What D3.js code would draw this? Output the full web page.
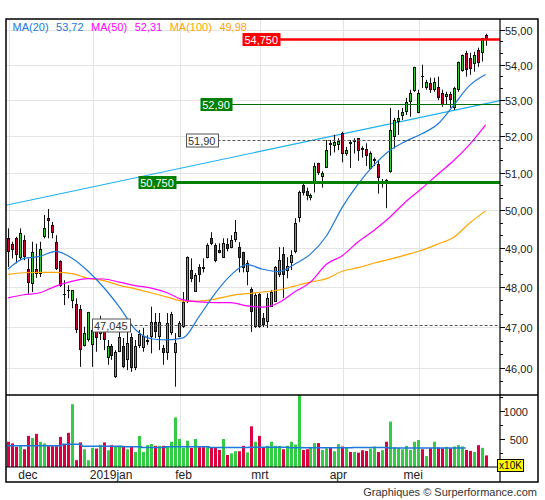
<!DOCTYPE html>
<html><head><meta charset="utf-8">
<script src="https://cdn.jsdelivr.net/npm/d3@7"></script>
<style>body{margin:0;background:#fff}svg{display:block}text{font-family:"Liberation Sans",Arial,sans-serif}</style>
</head><body><svg id="c" width="545" height="500"></svg>
<script>
// ---------- DATA ----------
const opens=[49.26,49.12,49.26,48.74,49.21,48.46,48.09,48.46,48.35,49.30,49.80,49.61,49.17,48.67,47.84,47.94,47.65,47.57,47.45,46.52,46.68,46.56,47.01,46.83,46.98,46.23,46.54,45.78,46.39,46.53,46.19,46.76,45.99,46.53,46.48,46.64,46.76,47.12,46.76,46.48,46.35,46.86,46.35,46.76,47.01,47.63,48.44,47.88,48.52,48.51,48.76,49.26,49.08,48.95,48.76,49.12,49.01,49.21,49.03,48.91,48.38,47.95,47.01,47.84,47.22,47.13,47.51,47.63,48.31,48.86,48.42,48.61,48.91,49.79,50.68,50.52,50.33,50.74,51.25,50.89,51.14,51.80,51.73,51.75,52.09,51.51,51.83,51.84,51.94,51.66,51.63,51.09,51.32,51.23,50.74,50.81,51.01,51.98,52.40,52.56,52.66,52.95,53.26,52.63,53.67,53.35,53.48,53.29,53.38,53.19,53.09,53.16,52.77,53.29,53.83,54.33,54.19,54.02,54.43,54.33,54.86];
const highs=[49.52,49.17,49.30,49.52,49.34,48.74,49.17,49.12,49.17,49.87,50.03,49.69,49.34,48.69,48.18,48.05,47.93,47.72,47.55,47.01,47.38,47.18,47.18,47.28,47.03,46.68,46.58,46.43,46.98,46.73,46.93,46.85,46.68,46.93,46.98,46.80,47.51,47.35,47.35,46.56,47.35,47.38,46.85,47.15,47.88,48.79,48.74,48.36,48.59,48.74,49.13,49.42,49.13,49.13,49.26,49.26,49.34,49.74,49.16,48.91,48.69,48.00,47.85,47.85,47.35,47.85,47.93,48.54,49.03,49.03,48.77,48.95,49.79,50.52,50.70,50.60,50.44,51.27,51.27,51.04,51.89,51.89,52.03,51.94,52.12,51.70,51.89,51.94,51.94,51.72,51.80,51.58,51.41,51.32,50.83,50.83,52.78,52.50,52.72,52.78,53.06,53.29,53.94,53.29,54.00,53.57,53.63,53.63,53.66,53.29,53.23,53.23,53.37,54.09,54.29,54.40,54.34,54.37,54.49,54.77,54.89];
const lows=[48.52,48.74,48.61,48.69,48.69,47.84,47.88,48.24,48.26,49.26,49.26,49.26,48.44,48.01,47.55,47.72,47.47,46.85,46.02,46.52,46.64,46.02,46.39,46.68,46.43,46.07,46.19,45.75,46.38,45.99,45.94,45.90,45.94,46.48,46.39,46.56,46.35,46.73,46.43,46.07,46.19,46.80,45.54,46.75,46.98,47.60,48.13,47.88,48.13,48.38,48.74,49.08,48.64,48.87,48.76,48.92,49.00,49.16,48.38,48.38,48.05,46.88,46.98,46.98,47.00,46.98,47.50,47.63,48.26,47.73,48.23,48.44,48.87,49.68,50.39,50.26,50.26,50.47,50.94,50.60,51.13,51.46,51.55,51.61,51.28,51.46,51.13,51.52,51.32,51.41,51.18,51.09,51.18,50.44,50.60,50.05,51.00,51.66,52.03,52.44,52.58,52.53,53.23,52.63,53.34,53.29,53.20,53.23,53.00,52.81,52.86,52.78,52.72,53.23,53.80,53.66,53.71,53.80,53.94,54.09,54.54];
const closes=[48.91,48.95,48.82,49.39,48.78,48.12,48.91,48.33,48.99,49.52,49.71,49.41,48.46,48.03,47.81,47.91,47.93,46.93,46.43,46.85,47.37,46.93,46.72,47.13,46.68,46.52,46.29,46.39,46.76,46.02,46.60,45.99,46.52,46.82,46.78,46.68,47.12,46.88,47.13,46.35,47.09,47.32,46.60,47.09,47.63,48.78,48.22,48.31,48.31,48.46,49.08,49.10,48.67,48.89,49.15,48.97,49.21,49.43,48.74,48.48,48.61,47.38,47.80,47.01,47.05,47.73,47.88,48.52,48.69,48.31,48.54,48.82,49.66,50.47,50.45,50.38,50.39,51.18,51.00,51.00,51.61,51.75,51.84,51.86,51.51,51.61,51.77,51.89,51.59,51.61,51.46,51.53,51.38,50.86,50.78,50.74,52.17,52.44,52.49,52.66,52.94,53.19,53.92,53.19,53.66,53.51,53.29,53.51,53.05,52.86,53.16,53.00,53.33,54.08,54.27,53.86,53.89,54.27,54.05,54.76,54.75];
const volumes=[451,421,360,378,317,555,518,592,451,421,372,372,372,537,409,610,1122,
122,439,317,122,342,329,397,439,299,390,366,378,378,317,372,268,555,268,390,409,378,378,378,360,451,
885,
500,342,470,342,500,354,354,354,354,354,305,500,214,244,281,281,378,262,726,451,555,342,378,451,378,378,317,378,451,400,
1290,
305,317,354,427,427,305,335,354,281,409,366,354,268,268,256,299,287,329,366,268,300,451,811,
354,342,317,378,305,451,482,317,195,335,451,348,335,360,335,366,390,366,305,287,268,390,342,207];
const maIdx=[0,4,8,12,16,20,24,28,32,36,40,44,48,52,56,60,64,68,72,76,80,84,88,92,96,100,104,108,112,116,120];
const ma20=[48.46,48.74,48.79,48.92,48.75,48.42,48.00,47.50,46.94,46.71,46.68,46.73,47.26,47.84,48.31,48.58,48.46,48.40,48.59,48.85,49.32,50.08,50.70,51.21,51.61,51.86,52.06,52.33,52.86,53.41,53.72];
const ma50=[47.73,47.81,47.86,48.03,48.15,48.22,48.21,48.13,48.04,47.98,47.86,47.68,47.63,47.61,47.61,47.53,47.50,47.61,47.88,48.13,48.59,48.81,49.17,49.47,49.82,50.23,50.58,50.96,51.33,51.77,52.31];
const ma100=[48.33,48.37,48.38,48.38,48.35,48.23,48.17,48.05,47.96,47.86,47.75,47.65,47.65,47.70,47.79,47.84,47.88,47.93,48.03,48.13,48.22,48.41,48.50,48.62,48.72,48.83,48.95,49.11,49.29,49.66,49.98];
const volAvgFrom=[0,14,19,29,34,40,51,61,71,87,96];
const volAvgTo=[14,19,29,34,40,51,61,71,87,96,115];
const volAvgVal=[380,405,372,360,350,362,350,352,345,347,340];
const trendIdx=[0,120];
const trendVal=[50.14,52.90];
const levelValues=[54.75,52.90,51.90,50.75,47.045];
const levelLabels=["54,750","52,90","51,90","50,750","47,045"];
const levelKinds=["red","green","box","greenThick","box"];
const levelFrom=[58.9,48.3,44.7,32.7,21.1];
const monthStart=[0,21,43,63,84,103];
const monthLabels=["dec","2019jan","feb","mrt","apr","mei"];
const monthLabelIdx=[5,25.9,44.1,63.3,83,101.8];
const priceTicks=[46,47,48,49,50,51,52,53,54,55];
const volTicks=[250,500,750,1000,1250];
const volLabels=[500,1000];

// ---------- LAYOUT ----------
const L=6,R=500,FR=538,T=19,MB=395,VB=467,B=482;
const svg=d3.select("#c");
const x=d3.scaleLinear().domain([0,120]).range([8,485.6]);
const y=d3.scaleLog().domain([46,55]).range([367.7,30]);
const yv=d3.scaleLinear().domain([0,1000]).range([467,411]);
const fmt=v=>v.toFixed(2).replace(".",",");
const UP="#33cc33",DN="#cc0033";

const defs=svg.append("defs");
defs.append("clipPath").attr("id","cm").append("rect").attr("x",L).attr("y",T).attr("width",R-L).attr("height",MB-T);
defs.append("clipPath").attr("id","cv").append("rect").attr("x",L).attr("y",MB).attr("width",R-L).attr("height",VB-MB);

// grid
const g=svg.append("g");
g.selectAll(".hg").data(priceTicks).enter().append("line")
 .attr("x1",L).attr("x2",R).attr("y1",d=>Math.round(y(d))+0.5).attr("y2",d=>Math.round(y(d))+0.5)
 .attr("stroke","#e4e4e4");
g.selectAll(".vg").data(monthStart).enter().append("line")
 .attr("x1",d=>Math.round(x(d))+1.5).attr("x2",d=>Math.round(x(d))+1.5).attr("y1",T).attr("y2",VB)
 .attr("stroke","#e4e4e4");

const main=svg.append("g").attr("clip-path","url(#cm)");

// trend line
{
 const x0=x(trendIdx[0]),x1=x(trendIdx[1]),y0=y(trendVal[0]),y1=y(trendVal[1]);
 const s=(y1-y0)/(x1-x0);
 main.append("line").attr("x1",L).attr("y1",y0+s*(L-x0)).attr("x2",R).attr("y2",y0+s*(R-x0))
  .attr("stroke","#1ab0f0").attr("stroke-width",1.2);
}

// candles
const idx=d3.range(opens.length);
const cg=main.append("g");
idx.forEach(i=>{
 const cx=Math.round(x(i))+0.5;
 cg.append("line").attr("x1",cx).attr("x2",cx).attr("y1",y(highs[i])).attr("y2",y(lows[i])).attr("stroke","#111").attr("stroke-width",1);
 const top=Math.round(y(Math.max(opens[i],closes[i]))),bot=Math.round(y(Math.min(opens[i],closes[i])));
 const up=closes[i]>=opens[i];
 if(bot-top<2){
  cg.append("line").attr("x1",cx-1.5).attr("x2",cx+1.5).attr("y1",top+0.5).attr("y2",top+0.5).attr("stroke","#111");
 } else {
  cg.append("rect").attr("x",cx-1).attr("y",top+0.5).attr("width",2).attr("height",bot-top-1)
   .attr("fill",up?UP:DN).attr("stroke","#111").attr("stroke-width",1);
 }
});

// moving averages
const maLine=d3.line().x((d,k)=>x(maIdx[k])).y(d=>y(d)).curve(d3.curveMonotoneX);
[[ma100,"#ffa500"],[ma50,"#ff00ff"],[ma20,"#1e78dc"]].forEach(([a,c])=>{
 main.append("path").attr("d",maLine(a)).attr("fill","none").attr("stroke",c).attr("stroke-width",1.2);
});

// levels
levelValues.forEach((v,k)=>{
 const yy=Math.round(y(v))+0.5, kind=levelKinds[k], x0=x(levelFrom[k]);
 const lab=svg.append("g");
 const t=lab.append("text").attr("x",x0+2).attr("y",yy+4).attr("font-size",11).text(levelLabels[k]);
 const w=t.node().getComputedTextLength()+4;
 let fill="#fff",tc="#333",stroke="#555",lc="#555",lw=1,dash=null;
 if(kind==="red"){fill="#ff0000";tc="#fff";stroke="none";lc="#ff0000";lw=2.5;}
 if(kind==="green"){fill="#008000";tc="#fff";stroke="none";lc="#006e00";lw=1;}
 if(kind==="greenThick"){fill="#008000";tc="#fff";stroke="none";lc="#008000";lw=3;}
 if(kind==="box"){dash="3,2";}
 main.append("line").attr("x1",x0+w).attr("x2",R).attr("y1",yy).attr("y2",yy).attr("stroke",lc).attr("stroke-width",lw).attr("stroke-dasharray",dash);
 lab.insert("rect","text").attr("x",Math.round(x0)+0.5).attr("y",yy-6.5).attr("width",Math.round(w)).attr("height",13)
  .attr("fill",fill).attr("stroke",stroke);
 t.attr("fill",tc);
});

// volume
const vg=svg.append("g").attr("clip-path","url(#cv)");
vg.selectAll("rect").data(volumes).enter().append("rect")
 .attr("x",(d,i)=>Math.round(x(i))-1).attr("width",3)
 .attr("y",d=>yv(d)).attr("height",d=>VB-yv(d))
 .attr("fill",(d,i)=>closes[i]>=opens[i]?"#33cc44":"#dd0040");
const stepPts=volAvgFrom.map((f,k)=>[x(f)-2,volAvgVal[k]]);
stepPts.push([x(volAvgTo[volAvgTo.length-1]),volAvgVal[volAvgVal.length-1]]);
vg.append("path").attr("d",d3.line().x(d=>d[0]).y(d=>yv(d[1])).curve(d3.curveStepAfter)(stepPts))
 .attr("fill","none").attr("stroke","#1e78dc").attr("stroke-width",1.5);

// frame
svg.append("rect").attr("x",L).attr("y",T).attr("width",FR-L).attr("height",B-T).attr("fill","none").attr("stroke","#000").attr("stroke-width",1.5);
svg.append("line").attr("x1",L).attr("x2",FR).attr("y1",MB).attr("y2",MB).attr("stroke","#000").attr("stroke-width",1.5);
svg.append("line").attr("x1",L).attr("x2",R).attr("y1",VB).attr("y2",VB).attr("stroke","#000").attr("stroke-width",1.2);
svg.append("line").attr("x1",R).attr("x2",R).attr("y1",T).attr("y2",B).attr("stroke","#000").attr("stroke-width",1.2);

// price axis
const ax=svg.append("g");
priceTicks.forEach(v=>{
 const yy=Math.round(y(v))+0.5;
 ax.append("line").attr("x1",R).attr("x2",R+5).attr("y1",yy).attr("y2",yy).attr("stroke","#000");
 ax.append("text").attr("x",R+5).attr("y",yy+4).attr("font-size",11).attr("fill","#222").text(fmt(v));
});
d3.range(45,56).forEach(v=>{[1/3,2/3].forEach(f=>{
 const yy=y(v+f); if(yy>T+2&&yy<MB-2){
 ax.append("line").attr("x1",R).attr("x2",R+3).attr("y1",Math.round(yy)+0.5).attr("y2",Math.round(yy)+0.5).attr("stroke","#000");}
});});
volTicks.forEach(v=>{
 const yy=Math.round(yv(v))+0.5; if(yy<MB+1) return;
 const major=volLabels.includes(v);
 ax.append("line").attr("x1",R).attr("x2",R+(major?5:3)).attr("y1",yy).attr("y2",yy).attr("stroke","#000");
 if(major) ax.append("text").attr("x",528).attr("y",yy+4).attr("text-anchor","end").attr("font-size",11).attr("fill","#222").text(v);
});
ax.append("rect").attr("x",497.5).attr("y",459.5).attr("width",26).attr("height",12).attr("fill","#ffff00").attr("stroke","#000");
ax.append("text").attr("x",510.5).attr("y",469).attr("text-anchor","middle").attr("font-size",10).attr("fill","#000").text("x10K");

// month labels
monthLabels.forEach((m,k)=>{
 svg.append("text").attr("x",x(monthLabelIdx[k])).attr("y",479).attr("text-anchor","middle").attr("font-size",12).attr("fill","#222").text(m);
});

// legend
{
 let lx=12.5;
 const items=[["MA(20)",ma20,"#1e78dc"],["MA(50)",ma50,"#ff00ff"],["MA(100)",ma100,"#ffa500"]];
 items.forEach(([n,a,c])=>{
  [n,fmt(a[a.length-1])].forEach(s=>{
   const t=svg.append("text").attr("x",lx).attr("y",31).attr("font-size",11).attr("fill",c).text(s);
   lx+=t.node().getComputedTextLength()+7.5;
  });
 });
}

svg.append("text").attr("x",537).attr("y",496).attr("text-anchor","end").attr("font-size",11).attr("fill","#333").text("Graphiques © Surperformance.com");
</script></body></html>
